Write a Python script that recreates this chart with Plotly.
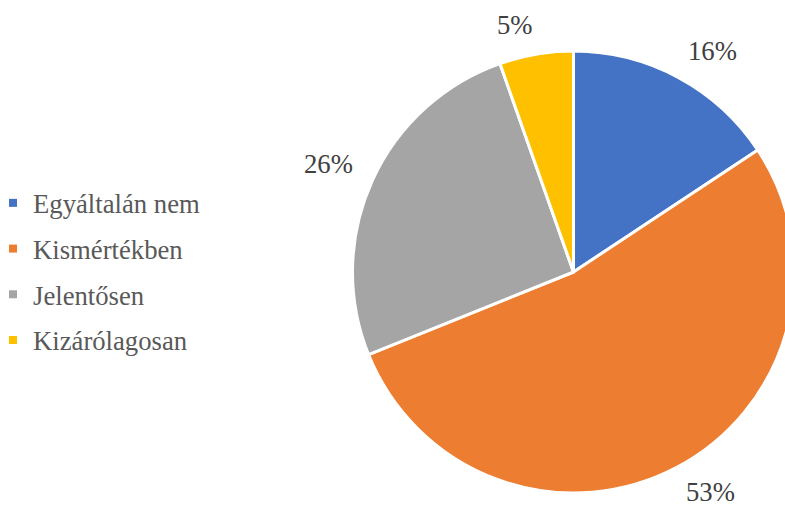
import math
import plotly.graph_objects as go

categories = ["Egyáltalán nem", "Kismértékben", "Jelentősen", "Kizárólagosan"]
values = [15.7, 53.2, 25.7, 5.4]
colors = ["#4472C4", "#ED7D31", "#A5A5A5", "#FFC000"]

W, H = 800, 506
CX, CY, R = 573.5, 272, 221
FONT = "Liberation Serif"
FS = 26.7
LBL = "#404040"
LEG = "#595959"

fig = go.Figure()
fig.add_trace(go.Pie(
    labels=categories, values=values, sort=False, direction="clockwise", rotation=0,
    marker=dict(colors=colors, line=dict(color="white", width=3)),
    textinfo="none", showlegend=False, hoverinfo="label+percent",
    domain=dict(x=[(CX - R) / W, (CX + R) / W], y=[(H - CY - R) / H, (H - CY + R) / H]),
))

for c, col in zip(categories, colors):
    fig.add_trace(go.Scatter(x=[None], y=[None], mode="markers", name=c, legendgroup=c,
                             marker=dict(symbol="square", size=8, color=col)))

# outside-end data labels: nearest label corner sits just outside the slice's mid-angle
total = sum(values)
annotations = []
cum = 0
GAP = 21
for v in values:
    mid = (cum + v / 2) / total * 2 * math.pi
    cum += v
    txt = f"{round(v / total * 100)}%"
    s, c = math.sin(mid), math.cos(mid)
    hw = (0.5 * (len(txt) - 1) + 0.833) * FS / 2
    hh = 10
    px = CX + (R + GAP) * s + math.copysign(hw, s)
    py = CY - (R + GAP) * c - math.copysign(hh, c) + 2
    py = min(py, H - 14)
    annotations.append(dict(x=px / W, y=1 - py / H, xref="paper", yref="paper", text=txt,
                            showarrow=False, xanchor="center", yanchor="middle",
                            font=dict(family=FONT, size=FS, color=LBL)))

fig.update_layout(
    width=W, height=H, margin=dict(l=0, r=0, t=0, b=0),
    paper_bgcolor="white", plot_bgcolor="white",
    xaxis=dict(visible=False), yaxis=dict(visible=False),
    annotations=annotations,
    legend=dict(x=0, y=1 - 179 / H, xanchor="left", yanchor="top", tracegroupgap=8,
                itemwidth=30, indentation=-7, font=dict(family=FONT, size=FS, color=LEG)),
    showlegend=True,
)

fig.write_html("out.html", config={"displayModeBar": False},
               post_script="document.body.style.margin='0';document.body.style.overflow='hidden';")
